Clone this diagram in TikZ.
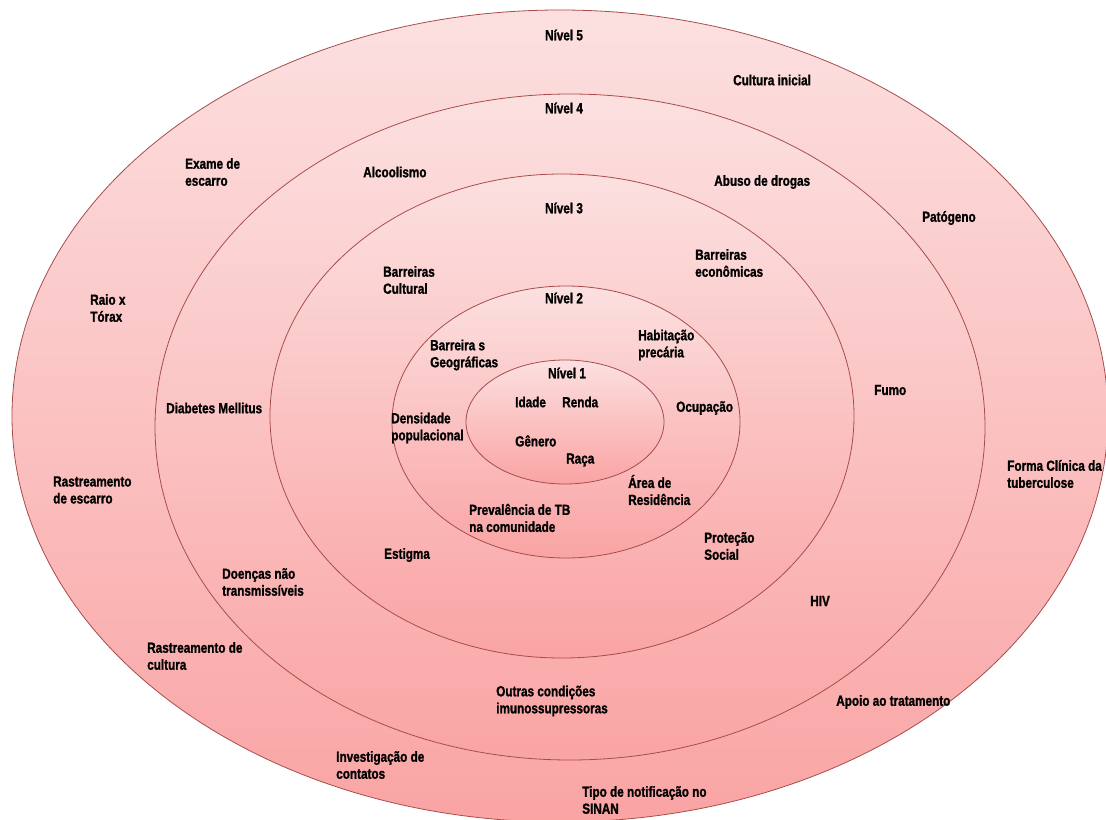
\documentclass[tikz,border=0pt]{standalone}
\usepackage{fontspec}
\setmainfont{Liberation Sans}[FakeStretch=0.80,BoldFeatures={FakeBold=1.2}]
\usepackage{tikz}
\definecolor{anelclaro}{RGB}{252,224,224}
\definecolor{anelescuro}{RGB}{250,164,164}
\definecolor{borda}{RGB}{168,76,76}

\begin{document}
\begin{tikzpicture}[x=0.75pt,y=-0.75pt,
    anel/.style={draw=borda,line width=0.6pt,top color=anelclaro,bottom color=anelescuro},
    nivel/.style={inner sep=0pt,font=\bfseries\fontsize{11}{12.75}\selectfont},
    fator/.style={anchor=west,align=left,inner sep=0pt,font=\bfseries\fontsize{11}{12.75}\selectfont}]
      \useasboundingbox (0,0) rectangle (1106,820);
      % aneis, de fora para dentro
      \path[anel] (560,416) ellipse [x radius=548, y radius=406];
      \path[anel] (570,427) ellipse [x radius=415, y radius=333];
      \path[anel] (562,416) ellipse [x radius=292, y radius=242];
      \path[anel] (566,422) ellipse [x radius=174, y radius=136];
      \path[anel] (565,422) ellipse [x radius=99, y radius=62];
      % niveis
      \node[nivel] (n5) at (564,35) {Nível 5};
      \node[nivel] (n4) at (564,108) {Nível 4};
      \node[nivel] (n3) at (564,208) {Nível 3};
      \node[nivel] (n2) at (564,298) {Nível 2};
      \node[nivel] (n1) at (567,373) {Nível 1};
      % nivel 1
      \node[fator] (idade) at (515,402) {Idade};
      \node[fator] (renda) at (562,402) {Renda};
      \node[fator] (genero) at (515,441) {Gênero};
      \node[fator] (raca) at (566,460) {Raça};
      % nivel 2
      \node[fator] (habit) at (638,345) {Habitação\\precária};
      \node[fator] (geog) at (430,355) {Barreira s\\Geográficas};
      \node[fator] (densidade) at (391,428) {Densidade\\populacional};
      \node[fator] (ocup) at (676,408) {Ocupação};
      \node[fator] (area) at (628,490) {Área de\\Residência};
      \node[fator] (preval) at (469,518) {Prevalência de TB\\na comunidade};
      % nivel 3
      \node[fator] (econ) at (695,263) {Barreiras\\econômicas};
      \node[fator] (cultural) at (383,280) {Barreiras\\Cultural};
      \node[fator] (protecao) at (704,546) {Proteção\\Social};
      \node[fator] (estigma) at (384,555) {Estigma};
      % nivel 4
      \node[fator] (alcool) at (363,172) {Alcoolismo};
      \node[fator] (drogas) at (714,182) {Abuso de drogas};
      \node[fator] (diabetes) at (166,408) {Diabetes Mellitus};
      \node[fator] (fumo) at (874,390) {Fumo};
      \node[fator] (doencas) at (222,582) {Doenças não\\transmissíveis};
      \node[fator] (hiv) at (810,601) {HIV};
      \node[fator] (outras) at (496,701) {Outras condições\\imunossupressoras};
      % nivel 5
      \node[fator] (cultura) at (733,80) {Cultura inicial};
      \node[fator] (exame) at (185,172) {Exame de\\escarro};
      \node[fator] (patogeno) at (922,218) {Patógeno};
      \node[fator] (raio) at (90,308) {Raio x\\Tórax};
      \node[fator] (forma) at (1007,474) {Forma Clínica da\\tuberculose};
      \node[fator] (rastesc) at (53,490) {Rastreamento\\de escarro};
      \node[fator] (rastcult) at (147,656) {Rastreamento de\\cultura};
      \node[fator] (apoio) at (836,702) {Apoio ao tratamento};
      \node[fator] (invest) at (336,765) {Investigação de\\contatos};
      \node[fator] (tipo) at (582,800) {Tipo de notificação no\\SINAN};
\end{tikzpicture}
\end{document}
